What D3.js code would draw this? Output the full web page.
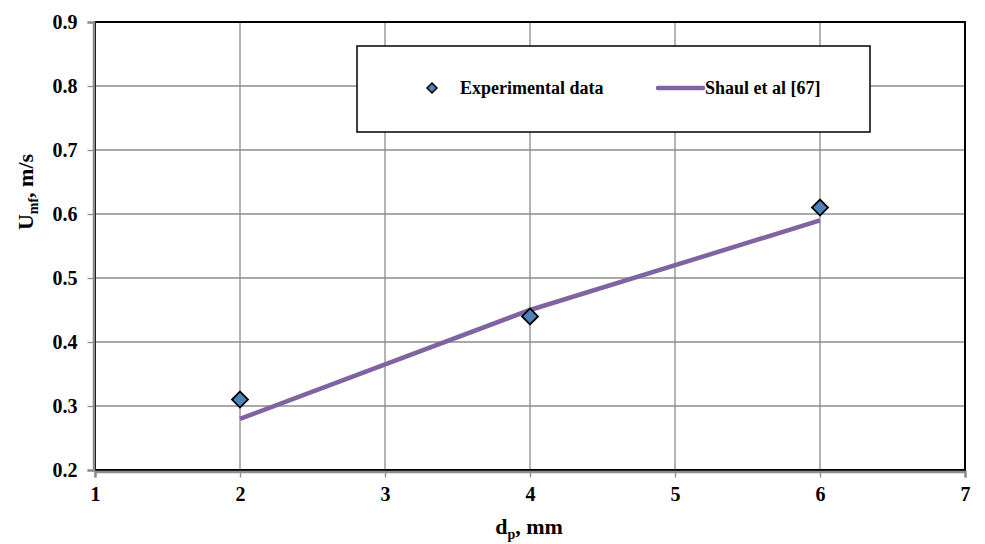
<!DOCTYPE html>
<html><head><meta charset="utf-8">
<script src="https://cdn.jsdelivr.net/npm/d3@7"></script>
<style>body{margin:0;background:#fff}svg{display:block}text{font-family:'Liberation Serif';font-weight:bold}</style>
</head><body><svg id="c" width="985" height="544"></svg>
<script>
const expX = [2, 4, 6];
const expY = [0.31, 0.44, 0.61];
const modelX = [2, 4, 6];
const modelY = [0.28, 0.45, 0.59];
const xTicks = [1, 2, 3, 4, 5, 6, 7];
const yTicks = [0.2, 0.3, 0.4, 0.5, 0.6, 0.7, 0.8, 0.9];
const seriesNames = ["Experimental data", "Shaul et al [67]"];

const FONT = "'Liberation Serif'";
const svg = d3.select("#c");
const L = 95, R = 965, T = 22, B = 470;
const x = d3.scaleLinear().domain([1, 7]).range([L, R]);
const y = d3.scaleLinear().domain([0.2, 0.9]).range([B, T]);

svg.append("g").selectAll("line").data(xTicks.slice(1, -1)).join("line")
  .attr("x1", d => x(d)).attr("x2", d => x(d)).attr("y1", T).attr("y2", B)
  .attr("stroke", "#8c8c8c").attr("stroke-width", 1.3);
svg.append("g").selectAll("line").data(yTicks.slice(1, -1)).join("line")
  .attr("x1", L).attr("x2", R).attr("y1", d => y(d)).attr("y2", d => y(d))
  .attr("stroke", "#8c8c8c").attr("stroke-width", 1.3);

svg.append("rect").attr("x", L).attr("y", T).attr("width", R - L).attr("height", B - T)
  .attr("fill", "none").attr("stroke", "#000").attr("stroke-width", 2);

const xa = svg.append("g").attr("transform", `translate(0,${B + 1.5})`)
  .call(d3.axisBottom(x).tickValues(xTicks).tickSize(6).tickPadding(12).tickFormat(d3.format("d")));
const ya = svg.append("g").attr("transform", `translate(${L - 1.5},0)`)
  .call(d3.axisLeft(y).tickValues(yTicks).tickSize(6).tickPadding(12).tickFormat(d3.format(".1f")));
[xa, ya].forEach(a => {
  a.attr("font-family", FONT).attr("font-size", 20).attr("font-weight", "bold");
  a.select(".domain").attr("stroke", "#8c8c8c").attr("stroke-width", 2.5);
  a.selectAll(".tick line").attr("stroke", "#8c8c8c").attr("stroke-width", 1.3);
  a.selectAll(".tick text").attr("fill", "#000");
});
ya.selectAll(".tick text").attr("x", -16);
xa.selectAll(".tick text").attr("dy", "0.75em").attr("y", 14);

const line = d3.line().x(d => x(d[0])).y(d => y(d[1]));
svg.append("path").datum(modelX.map((v, i) => [v, modelY[i]]))
  .attr("d", line).attr("fill", "none").attr("stroke", "#8064a2").attr("stroke-width", 4.5);

const diamond = (cx, cy, r) => `M${cx},${cy - r}L${cx + r},${cy}L${cx},${cy + r}L${cx - r},${cy}Z`;
svg.append("g").selectAll("path").data(expX.map((v, i) => [v, expY[i]])).join("path")
  .attr("d", d => diamond(x(d[0]), y(d[1]), 8))
  .attr("fill", "#4f81bd").attr("stroke", "#000").attr("stroke-width", 1.8);

const lg = svg.append("g").attr("font-family", FONT).attr("font-weight", "bold");
lg.append("rect").attr("x", 357).attr("y", 46).attr("width", 513).attr("height", 86)
  .attr("fill", "#fff").attr("stroke", "#000").attr("stroke-width", 1.5);
lg.append("path").attr("d", diamond(432, 88, 5)).attr("fill", "#4f81bd").attr("stroke", "#000").attr("stroke-width", 1.5);
lg.append("text").attr("x", 460).attr("y", 94).attr("font-size", 18).text(seriesNames[0]);
lg.append("line").attr("x1", 658).attr("x2", 703).attr("y1", 88).attr("y2", 88)
  .attr("stroke", "#8064a2").attr("stroke-width", 4.5).attr("stroke-linecap", "round");
lg.append("text").attr("x", 705).attr("y", 94).attr("font-size", 18).text(seriesNames[1]);

const xt = svg.append("text").attr("x", 529).attr("y", 534).attr("text-anchor", "middle")
  .attr("font-family", FONT).attr("font-size", 22);
xt.append("tspan").text("d");
xt.append("tspan").attr("dy", 5).attr("font-size", 14).text("p");
xt.append("tspan").attr("dy", -5).text(", mm");

const yt = svg.append("text").attr("transform", "translate(33,192) rotate(-90)").attr("text-anchor", "middle")
  .attr("font-family", FONT).attr("font-size", 22);
yt.append("tspan").text("U");
yt.append("tspan").attr("dy", 5).attr("font-size", 14).text("mf");
yt.append("tspan").attr("dy", -5).text(", m/s");
</script></body></html>
